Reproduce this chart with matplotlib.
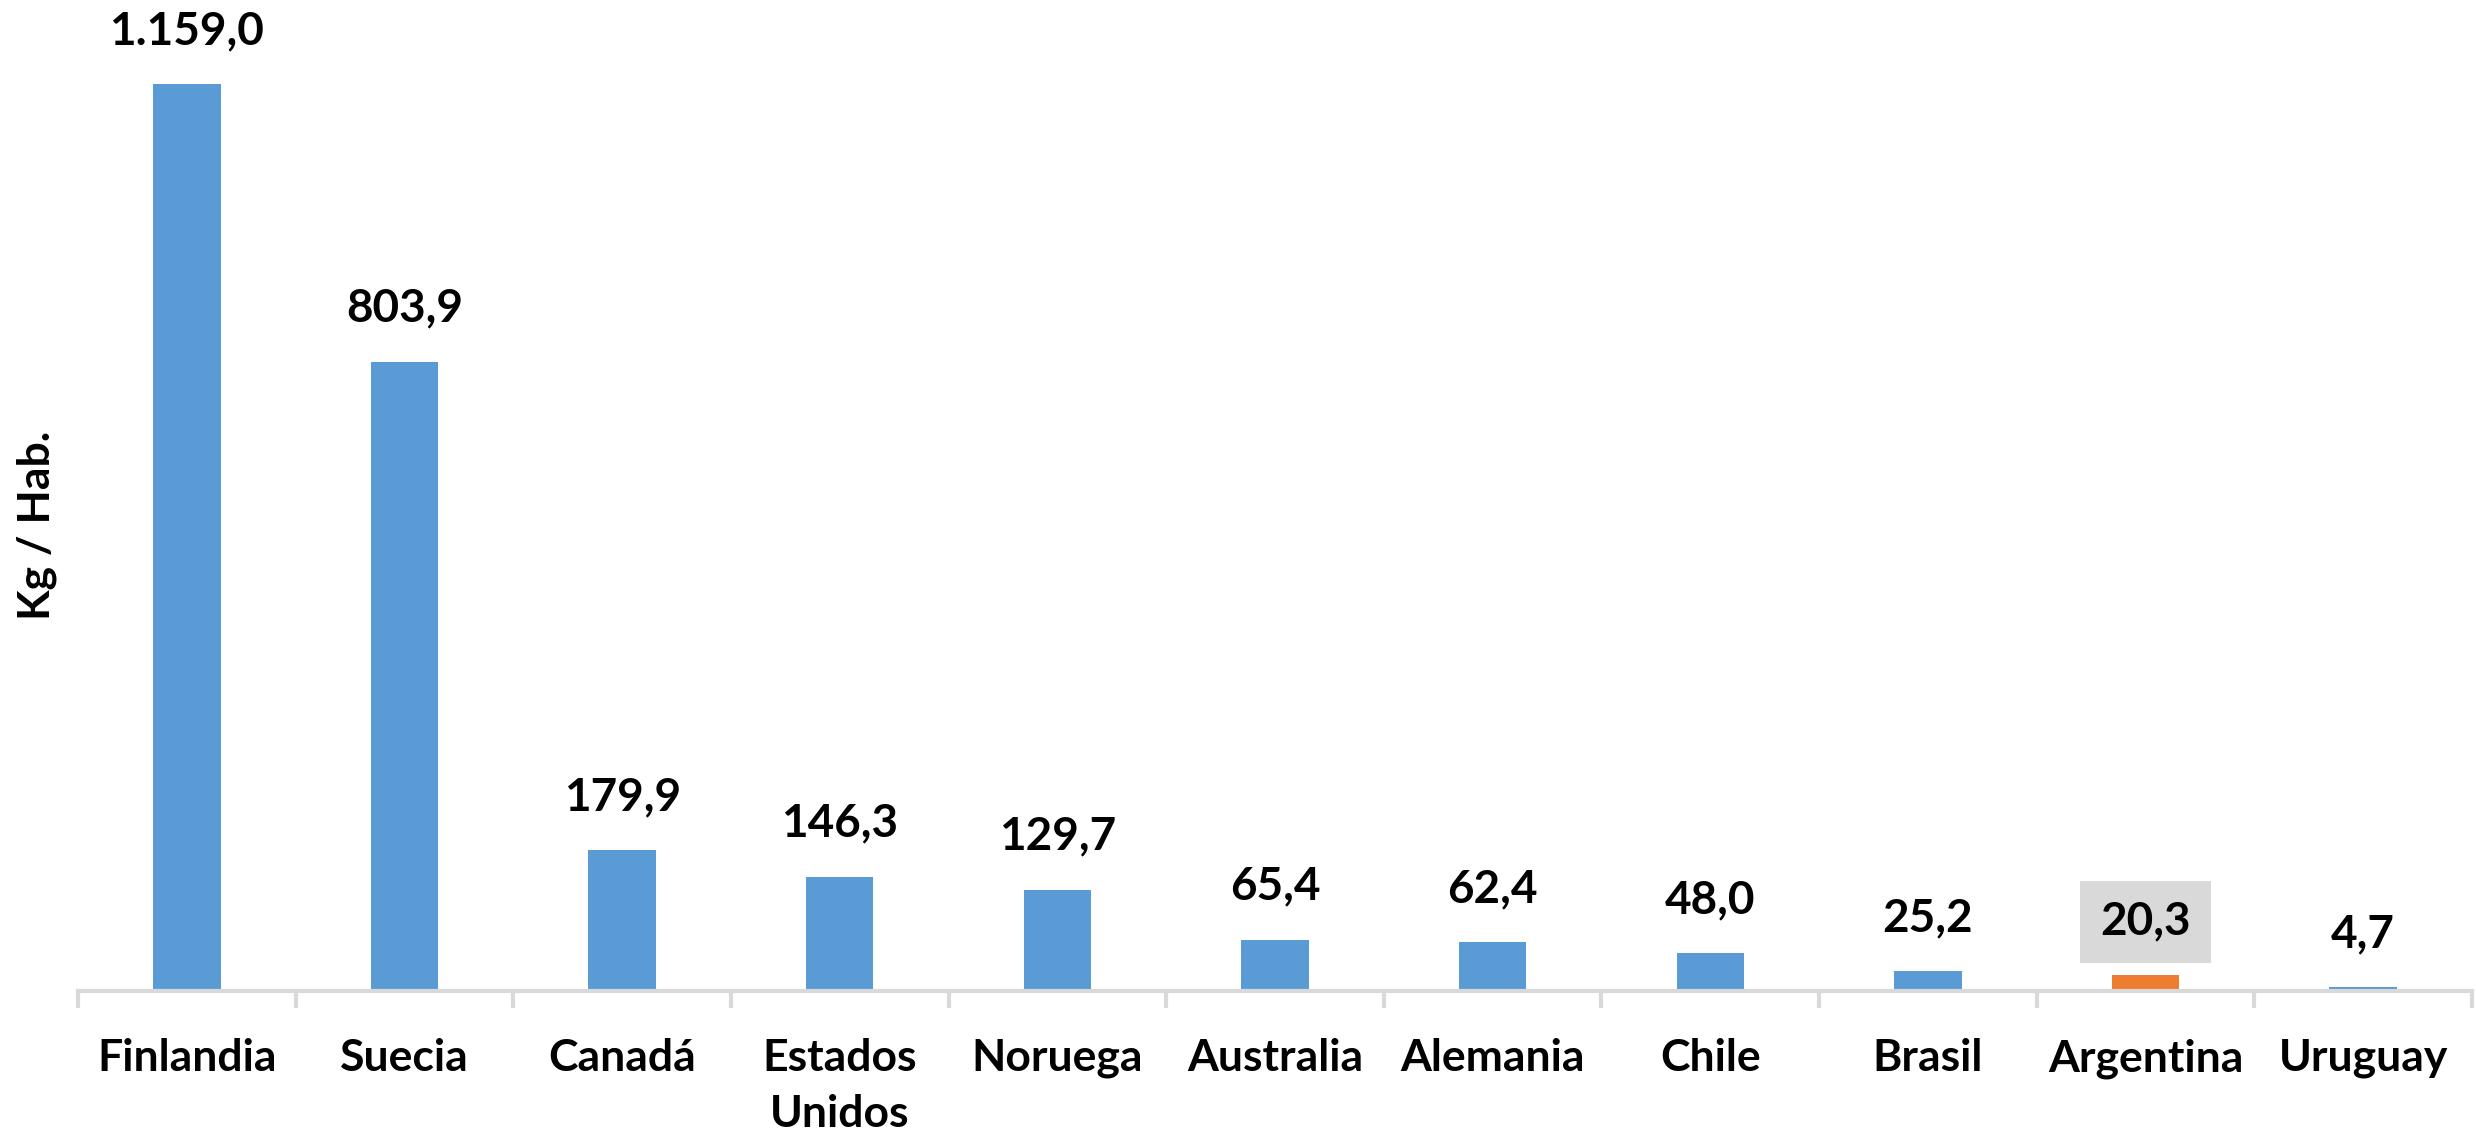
import matplotlib
matplotlib.use("Agg")
import matplotlib.pyplot as plt
import numpy as np

categories = ["Finlandia", "Suecia", "Canadá", "Estados\nUnidos", "Noruega",
              "Australia", "Alemania", "Chile", "Brasil", "Argentina", "Uruguay"]
values = [1159.0, 803.9, 179.9, 146.3, 129.7, 65.4, 62.4, 48.0, 25.2, 20.3, 4.7]
highlight = "Argentina"

BLUE = "#5B9BD5"
ORANGE = "#ED7D31"
GRAY = "#D9D9D9"

plt.rcParams['font.family'] = ['Lato', 'DejaVu Sans']
plt.rcParams['font.weight'] = 'bold'

W, H = 2476, 1138
fig = plt.figure(figsize=(W / 100, H / 100), dpi=100)
ax = fig.add_axes([78 / W, 1 - 991 / H, (2472 - 78) / W, (991 - 13) / H])

x = np.arange(len(categories))
colors = [ORANGE if c == highlight else BLUE for c in categories]
bars = ax.bar(x, values, width=0.31, color=colors, zorder=2)

ax.set_xlim(-0.5, len(categories) - 0.5)
ax.set_ylim(0, 1250)

for xi, v, c in zip(x, values, categories):
    lab = f"{v:,.1f}".replace(",", "X").replace(".", ",").replace("X", ".")
    kw = {}
    if c == highlight:
        kw["bbox"] = dict(boxstyle="square,pad=0.44", facecolor=GRAY, edgecolor="none")
    ax.annotate(lab, (xi, v), xytext=(0, 29), textcoords="offset points",
                ha="center", va="baseline", fontsize=33, fontweight="bold",
                color="#000000", **kw)

for s in ["left", "right", "top"]:
    ax.spines[s].set_visible(False)
ax.spines["bottom"].set_color(GRAY)
ax.spines["bottom"].set_linewidth(3)
ax.set_yticks([])

ax.set_xticks(x)
ax.set_xticklabels(categories, fontsize=32, fontweight="bold", linespacing=1.48)
ax.tick_params(axis="x", which="major", length=0, pad=34)
ax.set_xticks(np.arange(-0.5, len(categories), 1.0), minor=True)
ax.tick_params(axis="x", which="minor", length=12, width=3, color=GRAY)

fig.text(37 / W, 1 - 525 / H, "Kg / Hab.", rotation=90, ha="center", va="center",
         fontsize=32, fontweight="bold")

fig.savefig("out.png", dpi=100, facecolor="white")
